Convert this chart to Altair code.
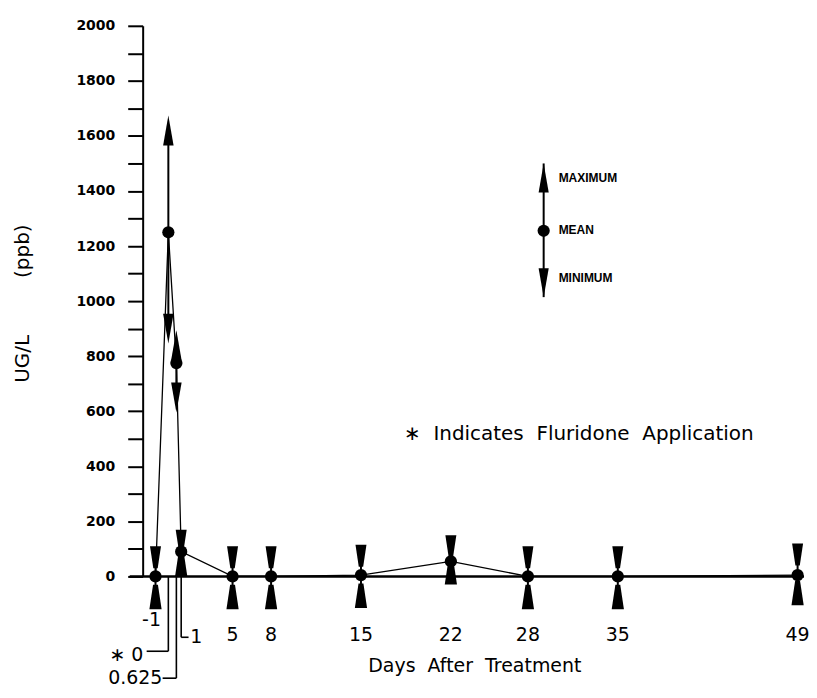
import altair as alt
import pandas as pd

# ---- data ----
days = [-1, 0, 0.625, 1, 5, 8, 15, 22, 28, 35, 49]
mean_vals = [0, 1250, 775, 90, 0, 0, 5, 55, 0, 0, 5]
max_vals = [70, 1620, 840, 130, 70, 70, 75, 110, 70, 70, 80]
min_vals = [-75, 900, 650, 45, -75, -75, -70, 15, -75, -75, -60]

tick_days = [5, 8, 15, 22, 28, 35, 49]
tick_labels = ["5", "8", "15", "22", "28", "35", "49"]
y_ticks = list(range(0, 2001, 100))

legend_labels = ["MAXIMUM", "MEAN", "MINIMUM"]
note_text = "\u2217\u00a0\u00a0Indicates\u00a0\u00a0Fluridone\u00a0\u00a0Application"
x_title = "Days\u00a0\u00a0After\u00a0\u00a0Treatment"
y_title = "UG/L" + "\u00a0" * 9 + "(ppb)"

df = pd.DataFrame({"day": days, "mean": mean_vals, "max": max_vals, "min": min_vals})
ticks = pd.DataFrame({"day": tick_days, "label": tick_labels})
one = pd.DataFrame({"k": [0]})

W, H = 663, 552
BLACK = "black"
FONT = "DejaVu Sans"

xs = alt.Scale(domain=[-2, 49.5], nice=False, zero=False)
ys = alt.Scale(domain=[0, 2000], nice=False, zero=False)

X = alt.X("day:Q", scale=xs, axis=None)

def yf(field):
    return alt.Y(field, scale=ys, axis=None)

UP = "M0,-1L0.35,1L-0.35,1Z"
DOWN = "M0,1L0.35,-1L-0.35,-1Z"
HG_TOP = "M-0.5,-1L0.5,-1L0.2,1L-0.2,1Z"
HG_BOT = "M-0.5,1L0.5,1L0.2,-1L-0.2,-1Z"

yaxis = alt.Axis(
    values=y_ticks,
    labelExpr="datum.value % 200 == 0 ? datum.label : ''",
    format="d",
    grid=False,
    tickSize=15,
    tickWidth=2,
    tickColor=BLACK,
    domainColor=BLACK,
    domainWidth=2,
    labelFont=FONT,
    labelFontWeight="bold",
    labelFontSize=14,
    labelColor=BLACK,
    labelPadding=13,
    title=y_title,
    titleFont=FONT,
    titleFontSize=20,
    titleFontWeight="normal",
    titleColor=BLACK,
    titleX=-120,
    titleY=278,
    titleBaseline="middle",
    titleAngle=270,
)

base = alt.Chart(df)

mean_line = base.mark_line(color=BLACK, strokeWidth=1.3).encode(
    x=X, y=alt.Y("mean:Q", scale=ys, axis=yaxis), order="day:Q"
)

zero_line = alt.Chart(one).mark_rule(color=BLACK, strokeWidth=2.5).encode(
    y=alt.YDatum(0, scale=ys, axis=None), x=alt.value(-13), x2=alt.value(W)
)

stems = base.mark_rule(color=BLACK, strokeWidth=2).encode(
    x=X, y=yf("min:Q"), y2="max:Q"
)

# high readings: arrowheads point outward; low readings: hourglass glyph
wide = "datum.mean > 500"
narrow = "datum.mean <= 500"

max_wide = base.transform_filter(wide).mark_point(
    shape=UP, size=900, filled=True, color=BLACK, opacity=1
).encode(x=X, y=yf("max:Q"))
min_wide = base.transform_filter(wide).mark_point(
    shape=DOWN, size=900, filled=True, color=BLACK, opacity=1
).encode(x=X, y=yf("min:Q"))
max_nar = base.transform_filter(narrow).mark_point(
    shape=HG_TOP, size=484, filled=True, color=BLACK, opacity=1
).encode(x=X, y=yf("max:Q"))
min_nar = base.transform_filter(narrow).mark_point(
    shape=HG_BOT, size=600, filled=True, color=BLACK, opacity=1
).encode(x=X, y=yf("min:Q"))

means = base.mark_point(shape="circle", size=150, filled=True, color=BLACK, opacity=1).encode(
    x=X, y=yf("mean:Q")
)

# x tick labels
tick_text = alt.Chart(ticks).mark_text(font=FONT, fontSize=19, color=BLACK, baseline="middle").encode(
    x=X, y=alt.value(611), text="label:N"
)

def label_at(day, txt, ypx, dx, align):
    return alt.Chart(one).mark_text(
        font=FONT, fontSize=19, color=BLACK, baseline="middle", align=align, dx=dx
    ).encode(x=alt.XDatum(day, scale=xs, axis=None), y=alt.value(ypx), text=alt.value(txt))

lab_m1 = label_at(-1, "-1", 596, -4, "center")
lab_1 = label_at(1, "1", 613, 9, "left")
lab_0 = label_at(0, "\u2217\u00a00", 631, -25, "right")
lab_0625 = label_at(0.625, "0.625", 654, -14, "right")

def vlead(day, y2):
    return alt.Chart(one).mark_rule(color=BLACK, strokeWidth=1.6).encode(
        x=alt.XDatum(day, scale=xs, axis=None), y=alt.value(H), y2=alt.value(y2)
    )

def hlead(day, xpx, ypx):
    return alt.Chart(one).mark_rule(color=BLACK, strokeWidth=1.6).encode(
        x=alt.XDatum(day, scale=xs, axis=None), x2=alt.value(xpx), y=alt.value(ypx)
    )

leaders = [
    vlead(0, 627), hlead(0, 4, 627),
    vlead(0.625, 654), hlead(0.625, 20, 654),
    vlead(1, 613), hlead(1, 46, 613),
]

# legend (drawn as annotation)
LX = 402
leg_line = alt.Chart(one).mark_rule(color=BLACK, strokeWidth=2).encode(
    x=alt.value(LX), y=alt.value(138), y2=alt.value(272)
)
leg_up = alt.Chart(one).mark_point(shape=UP, size=841, filled=True, color=BLACK, opacity=1).encode(
    x=alt.value(LX), y=alt.value(152.5)
)
leg_mid = alt.Chart(one).mark_point(shape="circle", size=150, filled=True, color=BLACK, opacity=1).encode(
    x=alt.value(LX), y=alt.value(205.5)
)
leg_dn = alt.Chart(one).mark_point(shape=DOWN, size=841, filled=True, color=BLACK, opacity=1).encode(
    x=alt.value(LX), y=alt.value(257.5)
)

def leg_label(txt, ypx):
    return alt.Chart(one).mark_text(
        font="Liberation Sans", fontWeight="bold", fontSize=12, color=BLACK,
        align="left", baseline="middle"
    ).encode(x=alt.value(417), y=alt.value(ypx), text=alt.value(txt))

leg_texts = [leg_label(t, yp) for t, yp in zip(legend_labels, [153, 205, 253])]

note = alt.Chart(one).mark_text(
    font=FONT, fontSize=20, color=BLACK, align="left", baseline="middle"
).encode(x=alt.value(262), y=alt.value(409), text=alt.value(note_text))

xtitle = alt.Chart(one).mark_text(
    font=FONT, fontSize=19, color=BLACK, align="center", baseline="middle"
).encode(x=alt.value(333), y=alt.value(642), text=alt.value(x_title))

chart = alt.layer(
    mean_line, zero_line, stems, max_wide, min_wide, max_nar, min_nar, means,
    tick_text, lab_m1, lab_1, lab_0, lab_0625, *leaders,
    leg_line, leg_up, leg_mid, leg_dn, *leg_texts, note, xtitle,
).resolve_scale(y="independent", x="shared").properties(
    width=W,
    height=H,
    autosize=alt.AutoSizeParams(type="none"),
    padding={"left": 135, "top": 17, "right": 5, "bottom": 113},
    background="white",
).configure_view(stroke=None)

chart.save("out.html", embed_options={"renderer": "svg", "actions": False})
